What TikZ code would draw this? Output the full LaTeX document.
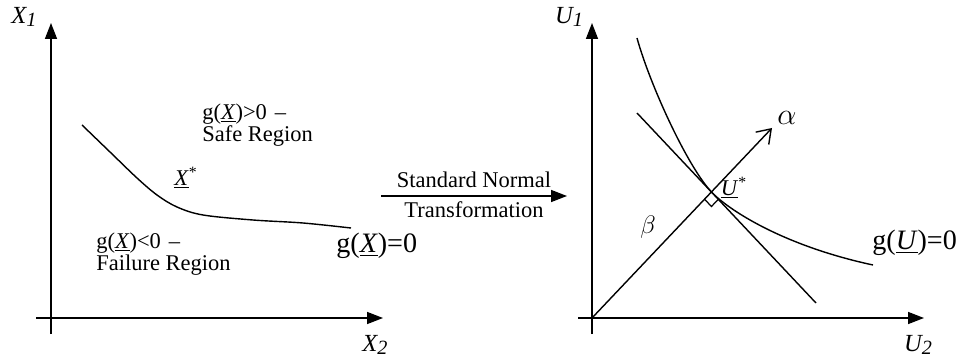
\documentclass[tikz,border=0pt]{standalone}
\usepackage{fontspec}
\setmainfont{Liberation Serif}
\usetikzlibrary{arrows.meta,calc}
\newcommand{\axlbl}[2]{{\fontsize{14}{14}\selectfont\itshape #1\raisebox{-0.3ex}{\fontsize{11.5}{11.5}\selectfont #2}}}
\begin{document}
\begin{tikzpicture}[x=0.02cm,y=-0.02cm,
    lbl/.style={font=\fontsize{12.8}{12.8}\selectfont,inner sep=0pt},
    biglbl/.style={font=\fontsize{16}{16}\selectfont,inner sep=0pt},
    axis/.style={line width=0.9pt,-{Triangle[length=0.32cm,width=0.24cm]}},
    curve/.style={line width=0.8pt}]
    \useasboundingbox (0,0) rectangle (958,358);

    % Truc toa do ben trai
    \coordinate (x1a) at (51,334);
    \coordinate (x1b) at (51,23);
    \coordinate (x2a) at (36,318);
    \coordinate (x2b) at (383,318);
    \draw[axis] (x1a) -- (x1b);
    \draw[axis] (x2a) -- (x2b);
    \node[inner sep=0pt] (x1) at (24,17) {\axlbl{X}{1}};
    \node[inner sep=0pt] (x2) at (375,345) {\axlbl{X}{2}};

    % Duong g(X)=0
    \draw[curve] plot[smooth,tension=0.55] coordinates
        {(82,125) (110,152) (137,178) (157,195) (177,207) (203,215) (253,220) (303,223) (351,228)};
    \node[lbl] (xstar) at (186,178) {\underline{\textit{X}}\textsuperscript{*}};
    \node[lbl,anchor=west,align=left] (safe) at (202,125)
        {g(\underline{\textit{X}})>0\hspace{0.35em}–\\Safe Region};
    \node[lbl,anchor=west,align=left] (fail) at (96,254)
        {g(\underline{\textit{X}})<0\hspace{0.35em}–\\Failure Region};
    \node[biglbl,anchor=west] (gx) at (336,246) {g(\underline{\textit{X}})=0};

    % Mui ten bien doi
    \coordinate (ta) at (381,196);
    \coordinate (tb) at (567,196);
    \draw[axis] (ta) -- (tb)
        node[lbl,midway,above=4pt] (std) {Standard Normal}
        node[lbl,midway,below=2.5pt] (trf) {Transformation};

    % Truc toa do ben phai
    \coordinate (o2) at (592,318);
    \coordinate (u1a) at (592,334);
    \coordinate (u1b) at (592,23);
    \coordinate (u2a) at (578,318);
    \coordinate (u2b) at (924,318);
    \draw[axis] (u1a) -- (u1b);
    \draw[axis] (u2a) -- (u2b);
    \node[inner sep=0pt] (u1) at (569,17) {\axlbl{U}{1}};
    \node[inner sep=0pt] (u2) at (918,345) {\axlbl{U}{2}};

    % Tiep tuyen, vecto alpha va duong g(U)=0
    \coordinate (a2) at (772,128);
    \coordinate (t1) at (637,113);
    \coordinate (t2) at (816,303);
    \coordinate (ustar) at (intersection of o2--a2 and t1--t2);
    \draw[curve] (t1) -- (t2);
    \draw[curve,-{Straight Barb[length=0.26cm,width=0.36cm]}] (o2) -- (a2);
    \draw[curve] (637,38) .. controls (650,85) and ($(ustar)+(-24,-25.5)$) .. (ustar)
        .. controls ($(ustar)+(15,16)$) and (780,245) .. (873,265);
    \coordinate (r1) at ($(ustar)!0.2cm!(o2)$);
    \coordinate (r2) at ($(ustar)!0.2cm!(t2)$);
    \draw[line width=0.7pt] (r1) -- ($(r1)+(r2)-(ustar)$) -- (r2);
    \node[inner sep=0pt,font=\fontsize{16}{16}\selectfont] (alpha) at (787,118) {$\alpha$};
    \node[inner sep=0pt,font=\fontsize{14}{14}\selectfont] (beta) at (648,227) {$\beta$};
    \node[lbl] (us) at (734,188) {\underline{\textit{U}}\textsuperscript{*}};
    \node[biglbl,anchor=west] (gu) at (872,243) {g(\underline{\textit{U}})=0};
\end{tikzpicture}
\end{document}
